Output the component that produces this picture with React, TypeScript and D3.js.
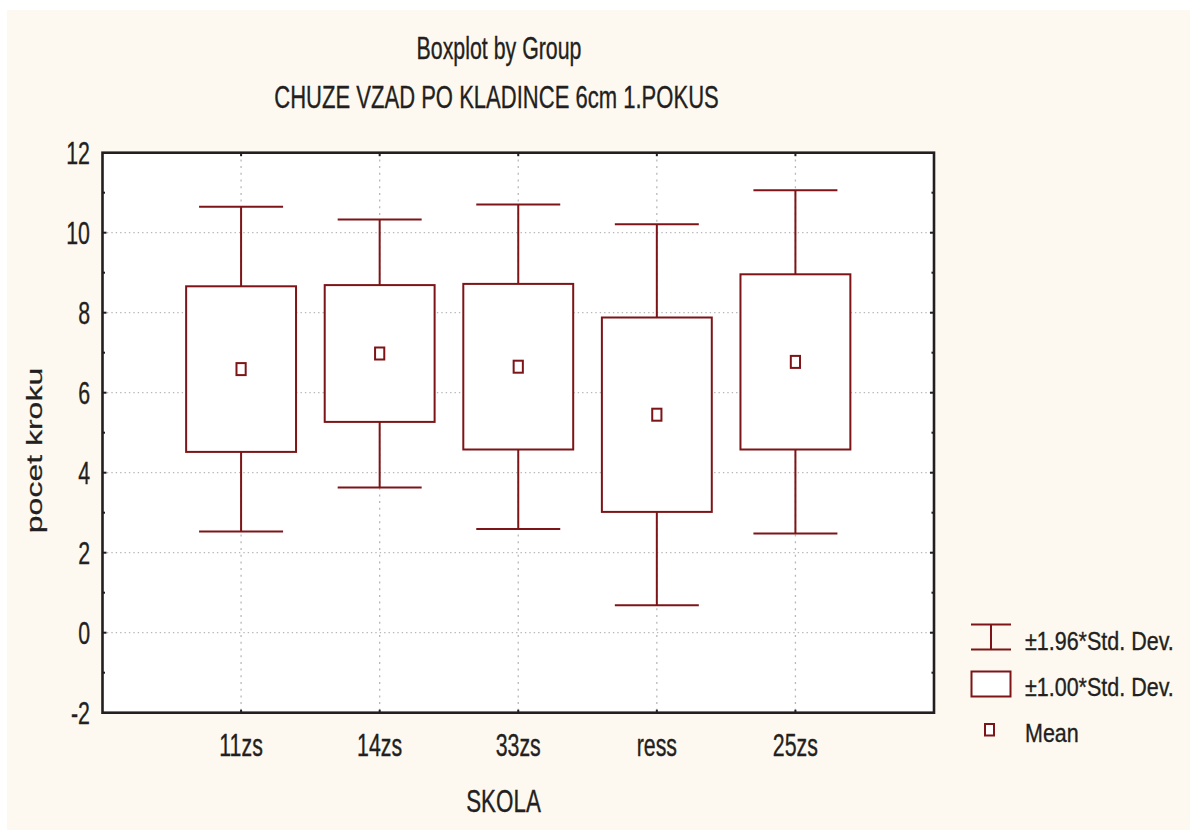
import React from "react";
import * as d3 from "d3";

// groups and their statistics (box = mean ± 1 sd, whiskers = mean ± 1.96 sd)
const categories = ["11zs", "14zs", "33zs", "ress", "25zs"];
const means = [6.59, 6.98, 6.65, 5.45, 6.77];
const stdDevs = [2.07, 1.71, 2.07, 2.43, 2.19];
const yTicks = [-2, 0, 2, 4, 6, 8, 10, 12];
const yMinorTicks = [-1, 1, 3, 5, 7, 9, 11];
const legendLabels = ["±1.96*Std. Dev.", "±1.00*Std. Dev.", "Mean"];

const FONT = "'Liberation Sans', Arial, sans-serif";
const INK = "#231f20";
const RED = "#7d1417";
const GRID = "#b8b8b8";

// text in the original is squeezed sideways, so scale x only
function Label(props: {x: number; y: number; text: string; size: number; sx?: number; anchor?: string; rotate?: number}) {
    const {x, y, text, size, sx = 0.7, anchor = "middle", rotate = 0} = props;
    return (
        <g transform={`translate(${x},${y}) scale(${sx},1) rotate(${rotate})`}>
            <text textAnchor={anchor} fontFamily={FONT} fontSize={size} fill={INK}
                stroke={INK} strokeWidth={0.35}>{text}</text>
        </g>
    );
}

export default function App() {
    const left = 102.5, right = 934, top = 152.7, bottom = 712.7;

    const x = d3.scalePoint<string>().domain(categories).range([left, right]).padding(1);
    const y = d3.scaleLinear().domain([-2, 12]).range([bottom, top]);
    const step = x.step();
    const boxW = step * 0.793;
    const capW = step * 0.606;

    const rows = categories.map((c, i) => ({
        cat: c,
        mean: means[i],
        lo1: means[i] - stdDevs[i],
        hi1: means[i] + stdDevs[i],
        lo2: means[i] - 1.96 * stdDevs[i],
        hi2: means[i] + 1.96 * stdDevs[i],
    }));

    return (
        <svg width={1190} height={831} style={{position: "absolute", left: 0, top: 0}}>
            <rect x={0} y={0} width={1190} height={831} fill="#ffffff" />
            <rect x={7} y={10} width={1183} height={820} fill="#fdf9f1" />
            <rect x={left} y={top} width={right - left} height={bottom - top} fill="#ffffff" />

            {/* grid */}
            {yTicks.slice(1, -1).map(t => (
                <line key={"gy" + t} x1={left} x2={right} y1={y(t)} y2={y(t)}
                    stroke={GRID} strokeWidth={1.3} strokeDasharray="1.4,3" />
            ))}
            {categories.map(c => (
                <line key={"gx" + c} x1={x(c)} x2={x(c)} y1={top} y2={bottom}
                    stroke={GRID} strokeWidth={1.3} strokeDasharray="2,4.7" />
            ))}

            {/* boxes */}
            {rows.map(r => {
                const cx = x(r.cat) as number;
                return (
                    <g key={r.cat} stroke={RED} strokeWidth={2} fill="none">
                        <line x1={cx} x2={cx} y1={y(r.hi2)} y2={y(r.lo2)} />
                        <line x1={cx - capW / 2} x2={cx + capW / 2} y1={y(r.hi2)} y2={y(r.hi2)} />
                        <line x1={cx - capW / 2} x2={cx + capW / 2} y1={y(r.lo2)} y2={y(r.lo2)} />
                        <rect x={cx - boxW / 2} y={y(r.hi1)} width={boxW} height={y(r.lo1) - y(r.hi1)} fill="#ffffff" />
                        <rect x={cx - 4.6} y={y(r.mean) - 6} width={9.2} height={12} fill="#ffffff" />
                    </g>
                );
            })}

            {/* frame and ticks */}
            <rect x={left} y={top} width={right - left} height={bottom - top} fill="none" stroke={INK} strokeWidth={2.6} />
            <g stroke={INK} strokeWidth={2}>
                {yTicks.slice(1, -1).map(t => (
                    <g key={"t" + t}>
                        <line x1={left} x2={left + 4} y1={y(t)} y2={y(t)} />
                        <line x1={right - 4} x2={right} y1={y(t)} y2={y(t)} />
                    </g>
                ))}
                {yMinorTicks.map(t => (
                    <g key={"m" + t}>
                        <line x1={left} x2={left + 2.5} y1={y(t)} y2={y(t)} />
                        <line x1={right - 2.5} x2={right} y1={y(t)} y2={y(t)} />
                    </g>
                ))}
                {categories.map(c => (
                    <g key={"xt" + c}>
                        <line x1={x(c)} x2={x(c)} y1={top} y2={top + 3.5} />
                        <line x1={x(c)} x2={x(c)} y1={bottom - 3} y2={bottom} />
                    </g>
                ))}
            </g>

            {/* tick labels */}
            {yTicks.map(t => (
                <Label key={"yl" + t} x={90} y={y(t) + 11} text={String(t)} size={30.5} anchor="end" />
            ))}
            {categories.map(c => (
                <Label key={"xl" + c} x={x(c) as number} y={756} text={c} size={30.5} />
            ))}

            {/* titles */}
            <Label x={499} y={59} text="Boxplot by Group" size={30.5} />
            <Label x={496.5} y={108} text="CHUZE VZAD PO KLADINCE 6cm 1.POKUS" size={31.5} />
            <Label x={503.5} y={811.5} text="SKOLA" size={32} />
            <Label x={42} y={450.5} text="pocet kroku" size={32} rotate={-90} />

            {/* legend */}
            <g stroke={RED} strokeWidth={2} fill="#ffffff">
                <line x1={971} x2={1011} y1={624.5} y2={624.5} />
                <line x1={971} x2={1011} y1={649.5} y2={649.5} />
                <line x1={991} x2={991} y1={624.5} y2={649.5} />
                <rect x={971.5} y={671.5} width={39} height={25} />
                <rect x={985} y={724} width={9} height={11.5} />
            </g>
            {legendLabels.map((l, i) => (
                <Label key={l} x={1025} y={650 + i * 46} text={l} size={25.6} sx={0.84} anchor="start" />
            ))}
        </svg>
    );
}
